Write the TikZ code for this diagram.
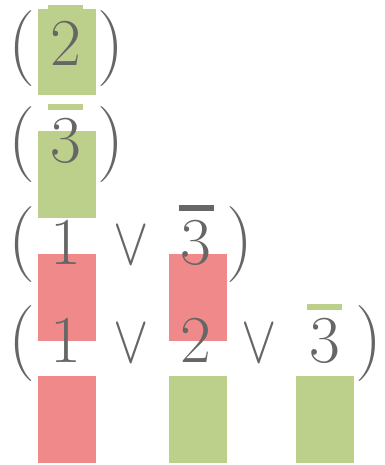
\RequirePackage{fix-cm}
\documentclass[tikz,border=0pt]{standalone}
\usepackage{fontspec}
\definecolor{litgreen}{RGB}{189,208,139}
\definecolor{litred}{RGB}{240,138,138}
\definecolor{txtgray}{RGB}{102,102,102}
\newcommand{\orsym}{\scalebox{0.78}[1]{$\vee$}}
\tikzset{
  lit/.style={inner sep=0pt, text=txtgray, font=\fontsize{67}{70}\selectfont, anchor=center},
  par/.style={inner sep=0pt, text=txtgray, font=\fontsize{76}{80}\selectfont, anchor=center},
  orop/.style={inner sep=0pt, text=txtgray, font=\fontsize{68}{72}\selectfont, anchor=center},
  gbox/.style={fill=litgreen, draw=none},
  rbox/.style={fill=litred, draw=none},
  gbar/.style={fill=litgreen, draw=none},
  kbar/.style={fill=txtgray, draw=none}
}
\begin{document}
\begin{tikzpicture}[x=1pt,y=-1pt]
\useasboundingbox (0,0) rectangle (384,465);
% boxes
\fill[gbox] (38,9) rectangle (96,95);
\fill[gbar] (48,5) rectangle (83,9);
\fill[gbar] (48,104) rectangle (83,110);
\fill[gbox] (38,131) rectangle (96,218);
\fill[rbox] (38,254) rectangle (96,341);
\fill[rbox] (169,254) rectangle (227,341);
\fill[kbar] (179,205) rectangle (214,211);
\fill[gbar] (307,304) rectangle (342,310);
\fill[rbox] (38,376) rectangle (96,463);
\fill[gbox] (169,376) rectangle (227,463);
\fill[gbox] (296,376) rectangle (354,463);
% row 1
\node[par] (p1l) at (22,49) {(};
\node[lit] (a1) at (66,43.5) {2};
\node[par] (p1r) at (111,49) {)};
% row 2
\node[par] (p2l) at (22,144.5) {(};
\node[lit] (b1) at (66,141) {3};
\node[par] (p2r) at (111,144.5) {)};
% row 3
\node[par] (p3l) at (22,245) {(};
\node[lit] (c1) at (66,242.5) {1};
\node[orop] (c2) at (131,246) {\orsym};
\node[lit] (c3) at (196,242.5) {3};
\node[par] (p3r) at (240,245) {)};
% row 4
\node[par] (p4l) at (22,343.5) {(};
\node[lit] (d1) at (66,340.5) {1};
\node[orop] (d2) at (131,344) {\orsym};
\node[lit] (d3) at (196,340.5) {2};
\node[orop] (d4) at (259,344) {\orsym};
\node[lit] (d5) at (325,340.5) {3};
\node[par] (p4r) at (369,343.5) {)};
\end{tikzpicture}
\end{document}
